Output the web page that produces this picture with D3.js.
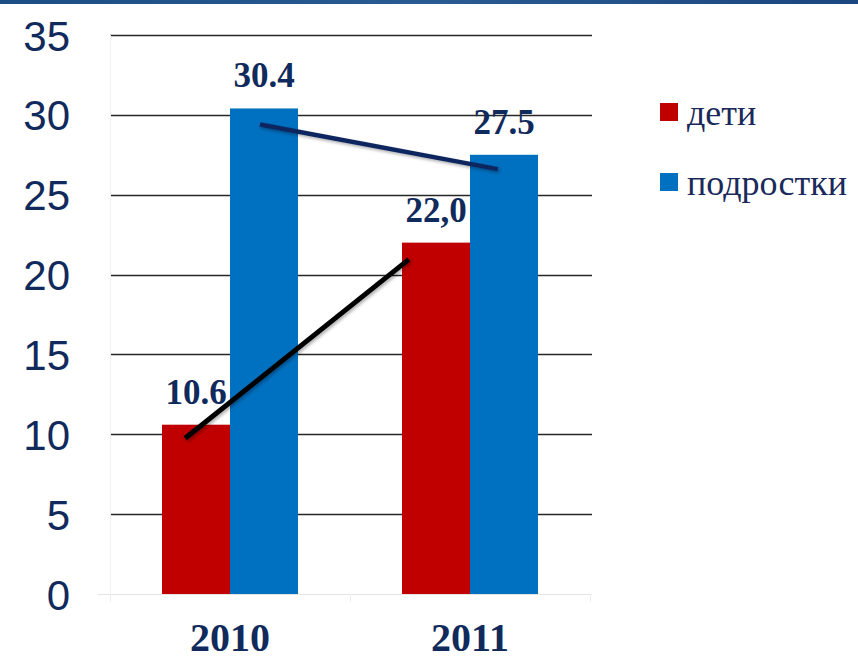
<!DOCTYPE html>
<html>
<head>
<meta charset="utf-8">
<script src="https://cdn.jsdelivr.net/npm/d3@7"></script>
<style>
  html, body { margin: 0; padding: 0; background: #ffffff; }
  svg { display: block; }
</style>
</head>
<body>
<svg id="chart" width="858" height="659"></svg>
<script>
// Categories and series
const years = ["2010", "2011"];
const seriesNames = ["дети", "подростки"];
const seriesColors = ["#c00000", "#0070c0"];

// Values per series, one entry per year
const detiValues = [10.6, 22.0];
const podrostkiValues = [30.4, 27.5];

// Printed value labels (as shown on the bars)
const detiLabels = ["10.6", "22,0"];
const podrostkiLabels = ["30.4", "27.5"];

// Y axis ticks
const yTicks = [0, 5, 10, 15, 20, 25, 30, 35];

// Trend strokes: start/end on each series, value and relative position inside the bar
const detiTrend = [
  { year: "2010", pos: 0.34, value: 9.75 },
  { year: "2011", pos: 0.10, value: 20.95 }
];
const podrostkiTrend = [
  { year: "2010", pos: 0.44, value: 29.4 },
  { year: "2011", pos: 0.41, value: 26.6 }
];

const svg = d3.select("#chart");
const W = 858, H = 659;
const plot = { left: 110, right: 592, top: 35, bottom: 594 };
const textNavy = "#112a5c";

// Header strip
const grad = svg.append("defs").append("linearGradient")
  .attr("id", "hdr").attr("x1", 0).attr("x2", 1).attr("y1", 0).attr("y2", 0);
grad.append("stop").attr("offset", "0%").attr("stop-color", "#1d4d85");
grad.append("stop").attr("offset", "50%").attr("stop-color", "#2a5a92");
grad.append("stop").attr("offset", "100%").attr("stop-color", "#1b4680");
svg.append("rect").attr("x", 0).attr("y", 0).attr("width", W).attr("height", 4)
  .attr("fill", "url(#hdr)");

// Scales
const y = d3.scaleLinear().domain([0, 35]).range([plot.bottom, plot.top]);
const x0 = d3.scaleBand().domain(years).range([110, 590]).padding(0);
const groupWidth = 136;
const x1 = d3.scaleBand().domain(seriesNames).range([0, groupWidth]).padding(0);
const groupLeft = yr => x0(yr) + x0.bandwidth() / 2 - groupWidth / 2;

// Gridlines
svg.append("g").selectAll("line").data(yTicks.filter(t => t > 0)).join("line")
  .attr("x1", plot.left).attr("x2", plot.right)
  .attr("y1", d => Math.round(y(d)) + 0.5).attr("y2", d => Math.round(y(d)) + 0.5)
  .attr("stroke", "#262626").attr("stroke-width", 1.3);

// Faint axis lines
svg.append("line").attr("x1", 98).attr("x2", plot.right)
  .attr("y1", y(0) + 0.5).attr("y2", y(0) + 0.5)
  .attr("stroke", "#e4e4e4").attr("stroke-width", 1);
svg.append("line").attr("x1", plot.left + 0.5).attr("x2", plot.left + 0.5)
  .attr("y1", plot.top).attr("y2", y(0))
  .attr("stroke", "#f2f2f2").attr("stroke-width", 1);
svg.append("g").selectAll("line").data([110, 350, 590]).join("line")
  .attr("x1", d => d + 0.5).attr("x2", d => d + 0.5)
  .attr("y1", y(0)).attr("y2", y(0) + 8)
  .attr("stroke", "#ececec");

// Y axis labels
const yAxis = d3.axisLeft(y).tickValues(yTicks).tickSize(0).tickPadding(0).tickFormat(d3.format("d"));
const yg = svg.append("g").attr("transform", "translate(70,0)").call(yAxis);
yg.select(".domain").remove();
yg.selectAll("text")
  .attr("font-family", "'Liberation Sans', Arial, sans-serif")
  .attr("font-size", 42)
  .attr("fill", textNavy)
  .attr("dy", "0.36em");

// Bars
const rows = years.map((yr, i) => ({
  year: yr,
  vals: [
    { s: seriesNames[0], v: detiValues[i], label: detiLabels[i], c: seriesColors[0] },
    { s: seriesNames[1], v: podrostkiValues[i], label: podrostkiLabels[i], c: seriesColors[1] }
  ]
}));

const groups = svg.append("g").selectAll("g").data(rows).join("g")
  .attr("transform", d => `translate(${groupLeft(d.year)},0)`);

groups.selectAll("rect").data(d => d.vals).join("rect")
  .attr("x", d => x1(d.s))
  .attr("width", x1.bandwidth())
  .attr("y", d => y(d.v))
  .attr("height", d => y(0) - y(d.v))
  .attr("fill", d => d.c);

// Value labels
groups.selectAll("text").data(d => d.vals).join("text")
  .attr("x", d => x1(d.s) + x1.bandwidth() / 2)
  .attr("y", d => y(d.v) - 21)
  .attr("text-anchor", "middle")
  .attr("font-family", "'Liberation Serif', 'Times New Roman', serif")
  .attr("font-weight", "bold")
  .attr("font-size", 35)
  .attr("fill", textNavy)
  .text(d => d.label);

// Trend strokes
const filt = svg.select("defs").append("filter").attr("id", "sh")
  .attr("x", "-20%").attr("y", "-20%").attr("width", "140%").attr("height", "140%");
filt.append("feDropShadow").attr("dx", 1.5).attr("dy", 2).attr("stdDeviation", 1.6)
  .attr("flood-color", "#000").attr("flood-opacity", 0.3);

const trendLine = (series) => d3.line()
  .x(d => groupLeft(d.year) + x1(series) + d.pos * x1.bandwidth())
  .y(d => y(d.value));

svg.append("path").datum(detiTrend)
  .attr("d", trendLine(seriesNames[0]))
  .attr("stroke", "#000000").attr("stroke-width", 5).attr("fill", "none")
  .attr("filter", "url(#sh)");
svg.append("path").datum(podrostkiTrend)
  .attr("d", trendLine(seriesNames[1]))
  .attr("stroke", "#0f2760").attr("stroke-width", 4.5).attr("fill", "none")
  .attr("filter", "url(#sh)");

// X axis labels
svg.append("g").selectAll("text").data(years).join("text")
  .attr("x", d => x0(d) + x0.bandwidth() / 2)
  .attr("y", 651)
  .attr("text-anchor", "middle")
  .attr("font-family", "'Liberation Serif', 'Times New Roman', serif")
  .attr("font-weight", "bold")
  .attr("font-size", 40)
  .attr("fill", textNavy)
  .text(d => d);

// Legend
const legend = svg.append("g").selectAll("g").data(seriesNames).join("g")
  .attr("transform", (d, i) => `translate(660,${103 + i * 70})`);
legend.append("rect").attr("width", 18).attr("height", 18)
  .attr("fill", (d, i) => seriesColors[i]);
legend.append("text").attr("x", 27).attr("y", 22)
  .attr("font-family", "'Liberation Serif', 'Times New Roman', serif")
  .attr("font-size", 36)
  .attr("fill", "#1a2a5a")
  .text(d => d);
</script>
</body>
</html>
